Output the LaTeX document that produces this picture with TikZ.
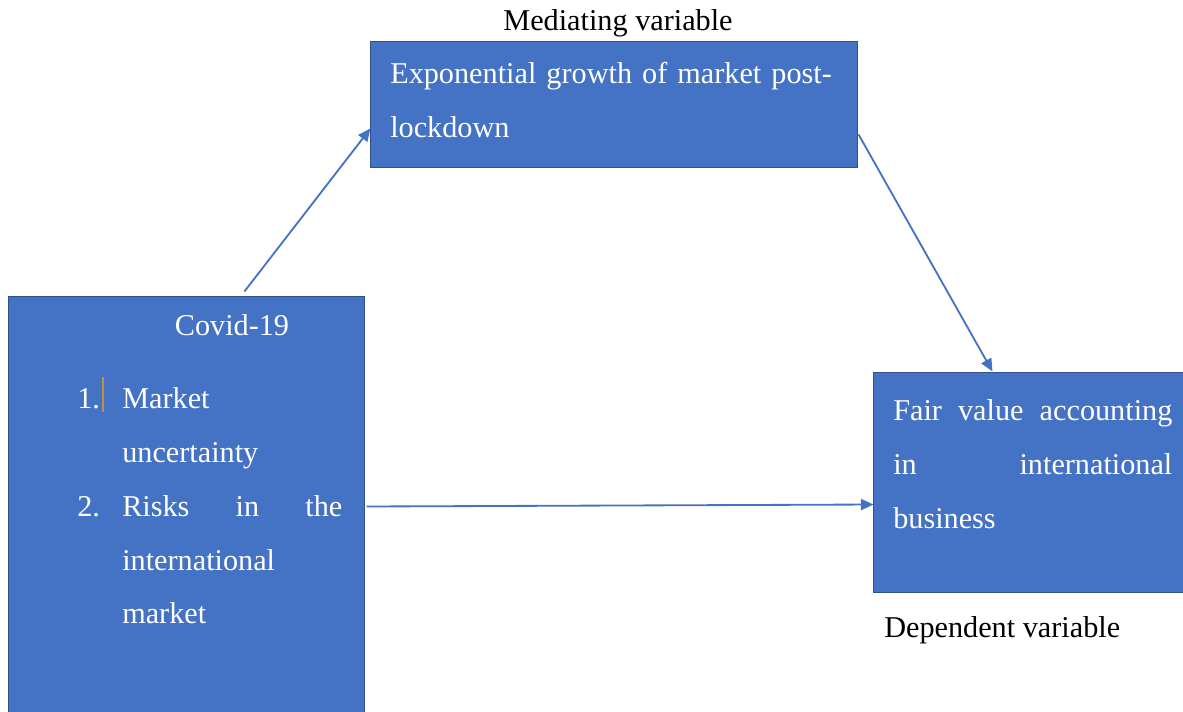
\documentclass[tikz,border=0pt]{standalone}
\usepackage{fontspec}
\setmainfont{Liberation Serif}
\usepackage{xcolor}
\usetikzlibrary{arrows.meta,calc}
\definecolor{boxblue}{HTML}{4472C4}
\definecolor{boxedge}{HTML}{2F528F}
\definecolor{cursorgold}{HTML}{C4903C}

\begin{document}
\begin{tikzpicture}[x={(0.025cm,0cm)},y={(0cm,-0.025cm)},
	box/.style={draw=boxedge,fill=boxblue,line width=0.7pt,inner sep=0pt},
	txt/.style={text=white,font=\fontsize{21.5}{38.4}\selectfont,inner sep=0pt,anchor=base west,align=left},
	lbl/.style={font=\fontsize{21.5}{26}\selectfont,inner sep=0pt},
	link/.style={-{Triangle[length=9pt,width=8pt]},boxblue,line width=1.3pt}]
	\useasboundingbox (0,0) rectangle (1183,711);
	\clip (0,0) rectangle (1183,711);
	% boxes
	\node[box,minimum width=12.15cm,minimum height=3.125cm] (med) at (614,104.5) {};
	\node[box,minimum width=8.875cm,minimum height=10.575cm] (cov) at (186.5,508.5) {};
	\node[box,minimum width=8.025cm,minimum height=5.475cm] (fair) at (1034.5,482.5) {};
	% box texts
	\node[txt,text width=11.8cm] (medtxt) at (390,83) {Exponential growth of market post-\\lockdown};
	\node[txt,anchor=base] (covtitle) at (232,335) {Covid-19};
	\node[txt,text width=6.625cm] (covlist) at (77,408) {\makebox[1.125cm][l]{1.}Market\\
		\hspace*{1.125cm}uncertainty\\
		\makebox[1.125cm][l]{2.}Risks\hfill in\hfill the\\
		\hspace*{1.125cm}international\\
		\hspace*{1.125cm}market};
	\draw[cursorgold,line width=0.8pt] (103,377) -- (103,412);
	\node[txt,text width=6.975cm] (fairtxt) at (893,420) {Fair\hfill value\hfill accounting\\
		in\hfill international\\
		business};
	% labels
	\node[lbl] (medlbl) at (618,23) {Mediating variable};
	\node[lbl,anchor=west] (deplbl) at (884,630) {Dependent variable};
	% arrows
	\draw[link] ($(cov.north west)+(236,-5)$) -- ($(med.west)+(0,24)$);
	\draw[link] ($(med.east)+(1,30)$) -- ($(fair.north west)+(119,-1)$);
	\draw[link] ($(cov.east)+(2,-2)$) -- ($(fair.west)+(0,22)$);
\end{tikzpicture}
\end{document}
